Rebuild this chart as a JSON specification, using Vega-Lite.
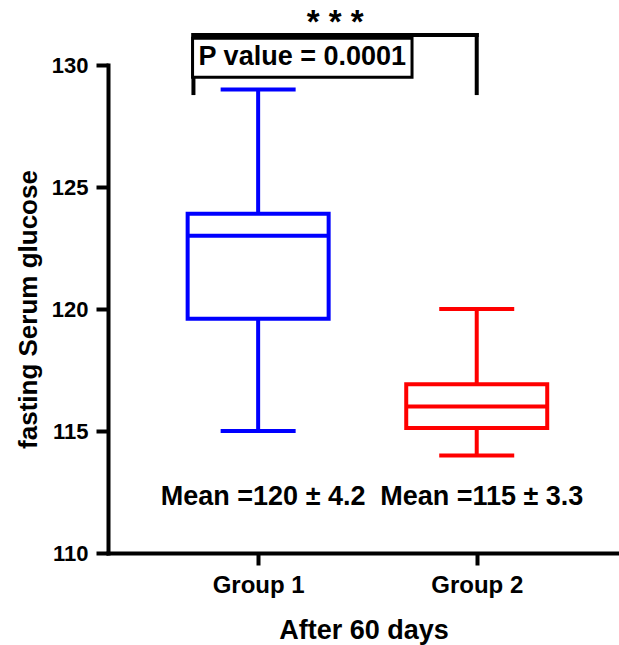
{
  "$schema": "https://vega.github.io/schema/vega-lite/v6.json",
  "autosize": "none",
  "width": 511,
  "height": 488,
  "padding": {"left": 108, "top": 65, "right": 0, "bottom": 92},
  "background": "white",
  "config": {
    "view": {"stroke": null},
    "font": "Liberation Sans",
    "axis": {"labelFont": "Liberation Sans", "titleFont": "Liberation Sans"}
  },
  "datasets": {
    "boxes": [
      {"group": "Group 1", "pos": 1, "min": 115, "q1": 119.6, "median": 123, "q3": 123.9, "max": 129, "mean": "Mean =120 ± 4.2"},
      {"group": "Group 2", "pos": 2, "min": 114, "q1": 115.12, "median": 116, "q3": 116.92, "max": 120, "mean": "Mean =115 ± 3.3"}
    ],
    "bracket": [
      {"x": 0.704, "x2": 2, "y": 131.23, "y2": 131.23},
      {"x": 0.704, "x2": 0.704, "y": 131.23, "y2": 128.85},
      {"x": 2, "x2": 2, "y": 131.23, "y2": 128.85}
    ],
    "pbox": [
      {"x": 0.70, "x2": 1.704, "y": 131.1, "y2": 129.5, "label": "P value = 0.0001", "labelx": 1.202, "stars": "* * *", "mid": 1.352}
    ]
  },
  "encoding": {
    "x": {
      "field": "pos", "type": "quantitative",
      "scale": {"domain": [0.336, 2.628], "nice": false, "zero": false},
      "axis": {
        "values": [1, 2],
        "labelExpr": "datum.value == 1 ? 'Group 1' : 'Group 2'",
        "title": "After 60 days",
        "grid": false,
        "domainColor": "black", "domainWidth": 4, "domainCap": "square",
        "tickColor": "black", "tickWidth": 4, "tickSize": 12,
        "labelFontSize": 24, "labelFontWeight": "bold", "labelColor": "black", "labelPadding": 8,
        "titleFontSize": 27, "titleFontWeight": "bold", "titleColor": "black", "titlePadding": 20
      }
    }
  },
  "layer": [
    {
      "data": {"name": "boxes"},
      "mark": {"type": "rule", "strokeWidth": 4},
      "encoding": {
        "y": {
          "field": "min", "type": "quantitative",
          "scale": {"domain": [110, 130], "nice": false, "zero": false},
          "axis": {
            "values": [110, 115, 120, 125, 130],
            "title": "fasting Serum glucose",
            "grid": false,
            "domainColor": "black", "domainWidth": 4, "domainCap": "square",
            "tickColor": "black", "tickWidth": 4, "tickSize": 12,
            "labelFontSize": 22, "labelFontWeight": "bold", "labelColor": "black", "labelPadding": 8,
            "titleFontSize": 26, "titleFontWeight": "bold", "titleColor": "black", "titlePadding": 10
          }
        },
        "y2": {"field": "max"},
        "color": {"field": "group", "type": "nominal", "scale": {"domain": ["Group 1", "Group 2"], "range": ["#0000FF", "#FF0000"]}, "legend": null}
      }
    },
    {
      "data": {"name": "boxes"},
      "mark": {"type": "bar", "width": 141, "fill": "white", "strokeWidth": 4},
      "encoding": {
        "y": {"field": "q1", "type": "quantitative"},
        "y2": {"field": "q3"},
        "stroke": {"field": "group", "type": "nominal", "scale": {"domain": ["Group 1", "Group 2"], "range": ["#0000FF", "#FF0000"]}, "legend": null}
      }
    },
    {
      "data": {"name": "boxes"},
      "mark": {"type": "tick", "orient": "horizontal", "size": 141, "thickness": 4, "opacity": 1},
      "encoding": {
        "y": {"field": "median", "type": "quantitative"},
        "color": {"field": "group", "type": "nominal", "legend": null}
      }
    },
    {
      "data": {"name": "boxes"},
      "mark": {"type": "tick", "orient": "horizontal", "size": 75, "thickness": 4, "opacity": 1},
      "encoding": {
        "y": {"field": "min", "type": "quantitative"},
        "color": {"field": "group", "type": "nominal", "legend": null}
      }
    },
    {
      "data": {"name": "boxes"},
      "mark": {"type": "tick", "orient": "horizontal", "size": 75, "thickness": 4, "opacity": 1},
      "encoding": {
        "y": {"field": "max", "type": "quantitative"},
        "color": {"field": "group", "type": "nominal", "legend": null}
      }
    },
    {
      "data": {"name": "boxes"},
      "mark": {"type": "text", "fontSize": 27, "fontWeight": "bold", "color": "black", "align": "center", "baseline": "alphabetic", "dx": 5},
      "encoding": {
        "y": {"datum": 111.95},
        "text": {"field": "mean"}
      }
    },
    {
      "data": {"name": "bracket"},
      "mark": {"type": "rule", "strokeWidth": 4, "color": "black", "strokeCap": "square"},
      "encoding": {
        "x": {"field": "x", "type": "quantitative"},
        "x2": {"field": "x2"},
        "y": {"field": "y", "type": "quantitative"},
        "y2": {"field": "y2"}
      }
    },
    {
      "data": {"name": "pbox"},
      "mark": {"type": "rect", "fill": "white", "stroke": "black", "strokeWidth": 3},
      "encoding": {
        "x": {"field": "x", "type": "quantitative"},
        "x2": {"field": "x2"},
        "y": {"field": "y", "type": "quantitative"},
        "y2": {"field": "y2"}
      }
    },
    {
      "data": {"name": "pbox"},
      "mark": {"type": "text", "fontSize": 27, "fontWeight": "bold", "color": "black", "align": "center", "baseline": "alphabetic"},
      "encoding": {
        "x": {"field": "labelx", "type": "quantitative"},
        "y": {"datum": 129.98},
        "text": {"field": "label"}
      }
    },
    {
      "data": {"name": "pbox"},
      "mark": {"type": "text", "fontSize": 33, "fontWeight": "bold", "color": "black", "align": "center", "baseline": "alphabetic"},
      "encoding": {
        "x": {"field": "mid", "type": "quantitative"},
        "y": {"datum": 131.3},
        "text": {"field": "stars"}
      }
    }
  ]
}
